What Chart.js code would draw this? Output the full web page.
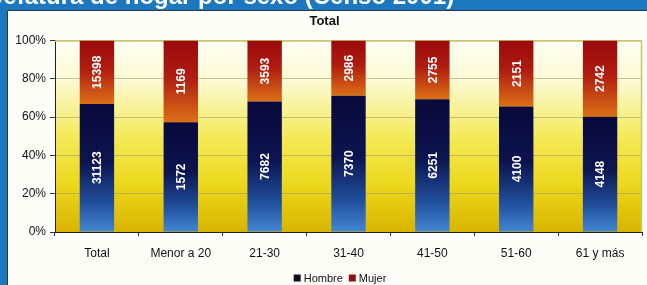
<!DOCTYPE html>
<html>
<head>
<meta charset="utf-8">
<script src="https://cdn.jsdelivr.net/npm/chart.js@4"></script>
<style>
    html, body { margin: 0; padding: 0; background: #1b78bf; }
    canvas { display: block; }
</style>
</head>
<body>
<canvas id="chart" width="647" height="285"></canvas>
<script>
// Jefatura de hogar por sexo (Censo 2001) - Total
const CATEGORIES = ['Total', 'Menor a 20', '21-30', '31-40', '41-50', '51-60', '61 y más'];
const HOMBRE = [31123, 1572, 7682, 7370, 6251, 4100, 4148];
const MUJER = [15398, 1169, 3593, 2986, 2755, 2151, 2742];
const Y_TICKS = [0, 20, 40, 60, 80, 100];
const SERIES = ['Hombre', 'Mujer'];

const HEADER_TEXT = 'Jefatura de hogar por sexo (Censo 2001)';

// porcentajes para la barra 100% apilada
const HOMBRE_PCT = HOMBRE.map((v, i) => v / (v + MUJER[i]) * 100);
const MUJER_PCT = MUJER.map((v, i) => v / (HOMBRE[i] + v) * 100);

const FONT = '"Liberation Sans", Arial, sans-serif';
const LEGEND_COLORS = ['#0d0d1c', '#8e1218'];

function segmentGradient(ctx, stops, fallback) {
    const chart = ctx.chart;
    const y = chart.scales.y;
    if (!chart.chartArea || !y) return fallback;
    const i = ctx.dataIndex;
    const isMale = ctx.datasetIndex === 0;
    const from = isMale ? HOMBRE_PCT[i] : 100;
    const to = isMale ? 0 : HOMBRE_PCT[i];
    const top = y.getPixelForValue(from);
    const bottom = y.getPixelForValue(to);
    const g = chart.ctx.createLinearGradient(0, top, 0, bottom);
    stops.forEach(s => g.addColorStop(s[0], s[1]));
    return g;
}

const frame = {
    id: 'frame',
    beforeDraw(chart) {
        const { ctx, chartArea: a } = chart;
        ctx.save();
        // marco azul
        ctx.fillStyle = '#1b78bf';
        ctx.fillRect(0, 0, chart.width, chart.height);
        ctx.fillStyle = '#fdfdf7';
        ctx.fillRect(7, 10, chart.width - 7, chart.height - 10);
        ctx.strokeStyle = '#334';
        ctx.lineWidth = 1;
        ctx.beginPath();
        ctx.moveTo(7.5, chart.height);
        ctx.lineTo(7.5, 10.5);
        ctx.lineTo(chart.width, 10.5);
        ctx.stroke();
        // texto cortado arriba
        ctx.beginPath();
        ctx.rect(0, 0, chart.width, 10);
        ctx.clip();
        ctx.fillStyle = '#ffffff';
        ctx.font = 'bold 24px ' + FONT;
        ctx.textBaseline = 'alphabetic';
        ctx.fillText(HEADER_TEXT, -10, 4);
        ctx.restore();
        ctx.save();
        // fondo del área
        const bg = ctx.createLinearGradient(0, a.top, 0, a.bottom);
        bg.addColorStop(0, '#fffff4');
        bg.addColorStop(0.22, '#fcf9d0');
        bg.addColorStop(0.5, '#f4ea5a');
        bg.addColorStop(0.75, '#ecd81c');
        bg.addColorStop(1, '#d8b400');
        ctx.fillStyle = bg;
        ctx.fillRect(a.left, a.top, a.right - a.left, a.bottom - a.top);
        ctx.restore();
    },
    beforeDatasetsDraw(chart) {
        const { ctx, chartArea: a } = chart;
        ctx.save();
        ctx.strokeStyle = '#c9c56a';
        ctx.lineWidth = 1.5;
        ctx.beginPath();
        ctx.moveTo(a.left, a.top + 0.5);
        ctx.lineTo(a.right - 0.5, a.top + 0.5);
        ctx.lineTo(a.right - 0.5, a.bottom);
        ctx.stroke();
        ctx.restore();
    },
    afterDatasetsDraw(chart) {
        const { ctx } = chart;
        const sets = [HOMBRE, MUJER];
        ctx.save();
        ctx.fillStyle = '#ffffff';
        ctx.font = 'bold 12px ' + FONT;
        ctx.textAlign = 'center';
        ctx.textBaseline = 'middle';
        sets.forEach((vals, d) => {
            chart.getDatasetMeta(d).data.forEach((bar, i) => {
                const cy = (bar.y + bar.base) / 2;
                ctx.save();
                ctx.translate(bar.x, cy);
                ctx.rotate(-Math.PI / 2);
                ctx.fillText(String(vals[i]), 0, 1);
                ctx.restore();
            });
        });
        ctx.restore();
    },
    afterDraw(chart) {
        // leyenda abajo
        const { ctx } = chart;
        ctx.save();
        ctx.font = '11px ' + FONT;
        ctx.textBaseline = 'middle';
        const box = 7, gap = 3, sep = 6;
        const widths = SERIES.map(s => ctx.measureText(s).width);
        const total = widths.reduce((s, w) => s + box + gap + w, 0) + sep * (SERIES.length - 1);
        let x = 340 - total / 2;
        const y = 278;
        SERIES.forEach((s, i) => {
            ctx.fillStyle = LEGEND_COLORS[i];
            ctx.fillRect(x, y - box / 2, box, box);
            x += box + gap;
            ctx.fillStyle = '#111';
            ctx.fillText(s, x, y + 0.5);
            x += widths[i] + sep;
        });
        ctx.restore();
    }
};

new Chart(document.getElementById('chart'), {
    type: 'bar',
    data: {
        labels: CATEGORIES,
        datasets: [
            {
                label: SERIES[0],
                data: HOMBRE_PCT,
                backgroundColor: c => segmentGradient(c, [
                    [0, '#09093a'], [0.45, '#0c1450'], [0.78, '#22519e'], [1, '#4487d4']
                ], '#0c1450'),
                borderWidth: 0,
                categoryPercentage: 1,
                barPercentage: 0.41
            },
            {
                label: SERIES[1],
                data: MUJER_PCT,
                backgroundColor: c => segmentGradient(c, [
                    [0, '#9a0a0c'], [0.45, '#b01c10'], [1, '#dc7018']
                ], '#a01010'),
                borderWidth: 0,
                categoryPercentage: 1,
                barPercentage: 0.41
            }
        ]
    },
    options: {
        responsive: false,
        animation: false,
        layout: { padding: { left: 7, right: 5, top: 10, bottom: 0 } },
        scales: {
            x: {
                stacked: true,
                grid: { drawOnChartArea: false, drawTicks: true, tickLength: 4, color: '#333', offset: true },
                border: { color: '#222', width: 1 },
                ticks: { color: '#111', font: { family: FONT, size: 12 }, padding: 10, maxRotation: 0 },
                afterFit(scale) { scale.height = 53; }
            },
            y: {
                stacked: true,
                min: 0,
                max: 100,
                afterBuildTicks(scale) { scale.ticks = Y_TICKS.map(v => ({ value: v })); },
                grid: { color: 'rgba(150,150,110,0.55)', tickColor: '#333', tickLength: 5 },
                border: { color: '#222', width: 1 },
                ticks: {
                    color: '#111',
                    font: { family: FONT, size: 12 },
                    padding: 4,
                    callback: v => v + '%'
                },
                afterFit(scale) { scale.width = 48; }
            }
        },
        plugins: {
            title: {
                display: true,
                text: 'Total',
                color: '#111',
                font: { family: FONT, size: 13, weight: 'bold' },
                padding: { top: 4, bottom: 11 }
            },
            legend: { display: false },
            tooltip: { enabled: false }
        }
    },
    plugins: [frame]
});
</script>
</body>
</html>
